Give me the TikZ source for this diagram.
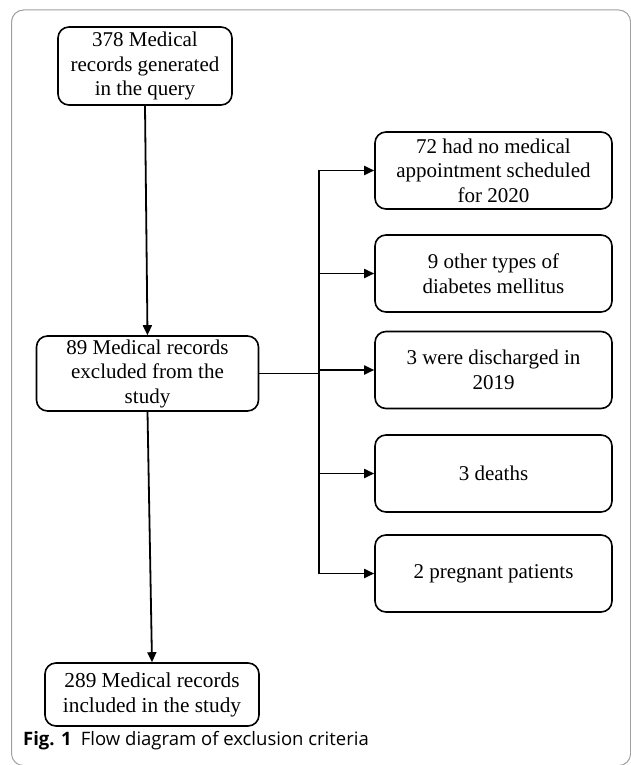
\documentclass[tikz,border=0pt]{standalone}
\usepackage{fontspec}
\setmainfont{Liberation Serif}
\newfontfamily\capfont{Open Sans}
\usetikzlibrary{arrows.meta,calc}
\begin{document}
\begin{tikzpicture}[x=1pt,y=-1pt,
  box/.style={draw,line width=1.6pt,rounded corners=11pt,align=center,inner sep=0pt,
    font=\fontsize{21}{24.5}\selectfont},
  rbox/.style={box,minimum width=237pt,minimum height=77pt},
  arr/.style={line width=1.8pt,-{Triangle[length=10pt,width=9pt]}},
  ln/.style={line width=1.8pt}]
\useasboundingbox (0,0) rectangle (630,765);
\draw[gray!75,line width=1pt,rounded corners=12pt] (11.5,10) rectangle (630.6,765.6);
\node[box,minimum width=174pt,minimum height=78pt] (b1) at (145,66) {378 Medical\\records generated\\in the query};
\node[box,minimum width=222pt,minimum height=75pt] (b2) at (147.5,373.5) {89 Medical records\\excluded from the\\study};
\node[box,minimum width=214pt,minimum height=63pt,font=\fontsize{21.3}{25}\selectfont] (b3) at (152,694.5) {289 Medical records\\included in the study};
\node[rbox] (ra) at (493.5,170.5) {72 had no medical\\appointment scheduled\\for 2020};
\node[rbox] (rb) at (493.5,273.5) {9 other types of\\diabetes mellitus};
\node[rbox] (rc) at (493.5,370) {3 were discharged in\\2019};
\node[rbox] (rd) at (493.5,473.5) {3 deaths};
\node[rbox] (re) at (493.5,573.5) {2 pregnant patients};
\coordinate (tt) at (319,170.5);
\coordinate (tb) at (319,573.5);
\draw[arr] (b1.south) -- (b2.north);
\draw[arr] (b2.south) -- (b3.north);
\draw[ln] (b2.east) -- (b2.east -| tt);
\draw[arr] (tb) -- (tt) -- (ra.west);
\draw[arr] (tb) -- (re.west);
\draw[arr] (rb.west -| tt) -- (rb.west);
\draw[arr] (rc.west -| tt) -- (rc.west);
\draw[arr] (rd.west -| tt) -- (rd.west);
\node[anchor=base west,inner sep=0pt,font=\capfont\fontsize{18.5}{21}\selectfont] (cap) at (23,745) {\textbf{Fig. 1}\hspace{0.5em}Flow diagram of exclusion criteria};
\end{tikzpicture}
\end{document}
